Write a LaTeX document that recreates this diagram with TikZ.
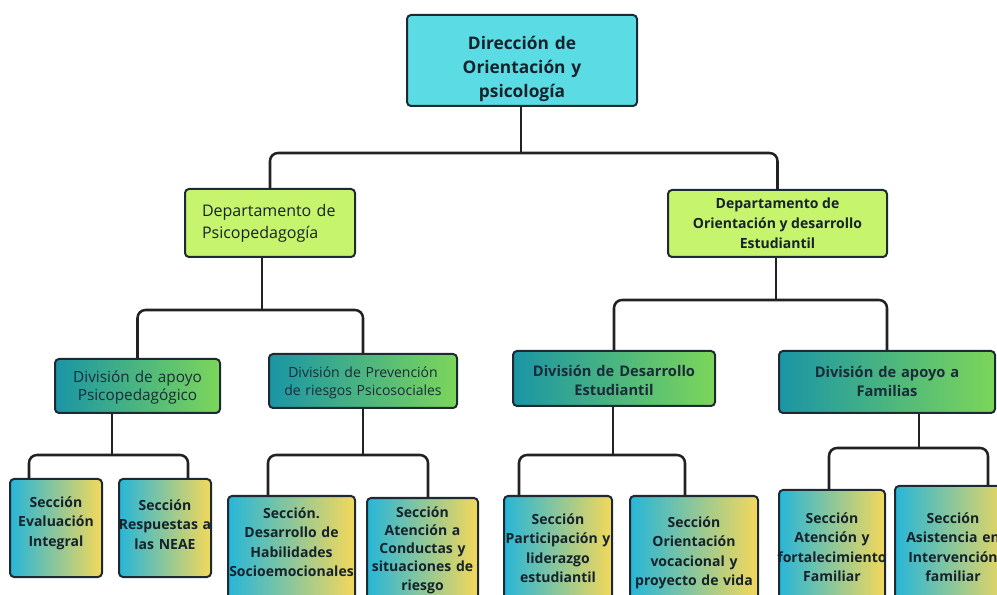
\documentclass[tikz,border=0pt]{standalone}
\usepackage{fontspec}
\setmainfont{Open Sans}
\hyphenpenalty=10000
\exhyphenpenalty=10000
\definecolor{topc}{HTML}{5BDCE4}
\definecolor{deptc}{HTML}{C6F46C}
\definecolor{divl}{HTML}{1A95A5}
\definecolor{divr}{HTML}{7CD65A}
\definecolor{secl}{HTML}{27B6D8}
\definecolor{secr}{HTML}{F4D85A}
\definecolor{bordc}{HTML}{1E2A33}
\definecolor{txtc}{HTML}{16222C}
\definecolor{divtxt}{HTML}{1B2B3A}
\definecolor{connc}{HTML}{222222}
\begin{document}
\begin{tikzpicture}[x=0.75pt,y=-0.75pt,
  box/.style={draw=bordc, line width=1.5pt, rounded corners=3pt, text=txtc, inner sep=0pt},
  wh/.style 2 args={minimum width={#1*0.75pt}, minimum height={#2*0.75pt}},
  topalign/.style={anchor=north, align=center, inner xsep=0pt, text height=0pt},
  topbox/.style={box, topalign, fill=topc, font=\bfseries\fontsize{13}{18}\selectfont},
  dept/.style={box, fill=deptc},
  divbox/.style={box, topalign, left color=divl, right color=divr, text=divtxt},
  secbox/.style={box, topalign, left color=secl, right color=secr, font=\bfseries\fontsize{10.5}{14.6}\selectfont, inner xsep=-4.5pt, text width={(#1+12)*0.75pt}},
  conn/.style={draw=connc, line width=1.9pt, rounded corners=6pt}
]
\useasboundingbox (0,0) rectangle (997,595);
\clip (0,0) rectangle (997,595);
\fill[white] (0,0) rectangle (997,595);

% top
\node[topbox, text width={230*0.75pt}, inner ysep={34.5*0.75pt}, text depth=16.5pt] (top) at (522,14) {Dirección de\\Orientación y\\psicología};

% departments
\node[dept, wh={170}{68}, text width={136*0.75pt}, align=left, font=\fontsize{12}{16.5}\selectfont] (dA) at (270,223) {Departamento de\\Psicopedagogía};
\node[dept, wh={219}{67}, align=center, font=\bfseries\fontsize{10.5}{15}\selectfont] (dB) at (777.5,223.5) {Departamento de\\Orientación y desarrollo\\Estudiantil};

% divisions
\node[divbox, text width={165*0.75pt}, inner ysep={23.5*0.75pt}, text depth=5.25pt, font=\fontsize{11.5}{13.5}\selectfont] (D1) at (137.5,358) {División de apoyo\\Psicopedagógico};
\node[divbox, text width={188*0.75pt}, inner ysep={23.5*0.75pt}, text depth=5.25pt, font=\fontsize{10.5}{13.2}\selectfont] (D2) at (363,353) {División de Prevención\\de riesgos Psicosociales};
\node[divbox, text width={202*0.75pt}, inner ysep={25.5*0.75pt}, text depth=3pt, font=\bfseries\fontsize{11}{14.2}\selectfont] (D3) at (614,350) {División de Desarrollo\\Estudiantil};
\node[divbox, text width={216*0.75pt}, inner ysep={26.5*0.75pt}, text depth=6.75pt, font=\bfseries\fontsize{11}{14.2}\selectfont] (D4) at (887,350) {División de apoyo a\\Familias};

% sections
\node[secbox=92, inner ysep={28.5*0.75pt}, text depth=30.75pt] (S1) at (56,478) {Sección\\Evaluación\\Integral};
\node[secbox=92, inner ysep={31.5*0.75pt}, text depth=26.25pt] (S2) at (165,478) {Sección\\Respuestas a\\las NEAE};
\node[secbox=127, inner ysep={22.5*0.75pt}, text depth=100pt] (S3) at (291.5,495) {Sección.\\Desarrollo de\\Habilidades\\Socioemocionales};
\node[secbox=111, inner ysep={19.5*0.75pt}, text depth=100pt, font=\bfseries\fontsize{10.5}{13.6}\selectfont] (S4) at (422.5,497) {Sección\\Atención a\\Conductas y\\situaciones de\\riesgo};
\node[secbox=108, inner ysep={28.5*0.75pt}, text depth=100pt] (S5) at (558,495) {Sección\\Participación y\\liderazgo\\estudiantil};
\node[secbox=128, inner ysep={31.5*0.75pt}, text depth=100pt] (S6) at (694,495) {Sección\\Orientación\\vocacional y\\proyecto de vida};
\node[secbox=106, inner ysep={33.5*0.75pt}, text depth=100pt] (S7) at (832,489) {Sección\\Atención y\\fortalecimiento\\Familiar};
\node[secbox=116, inner ysep={37.5*0.75pt}, text depth=100pt] (S8) at (953,485) {Sección\\Asistencia en\\Intervención\\familiar};

% junction coordinates
\coordinate (b0) at (521,153);
\coordinate (b1) at (262,310);
\coordinate (b2) at (776,300);
\coordinate (b3) at (112,455); \coordinate (b3l) at (29,455); \coordinate (b3r) at (188,455);
\coordinate (b4) at (363,455); \coordinate (b4l) at (268,455); \coordinate (b4r) at (428,455);
\coordinate (b5) at (613,455); \coordinate (b5l) at (519,455); \coordinate (b5r) at (685,455);
\coordinate (b6) at (919,448); \coordinate (b6l) at (829,448); \coordinate (b6r) at (988,448);

% connectors
\draw[conn] (top.south -| b0) -- (b0);
\draw[conn] (dA.north) |- (b0) -| (dB.north);
\draw[conn] (dA.south -| b1) -- (b1);
\draw[conn] (D1.north) |- (b1) -| (D2.north);
\draw[conn] (dB.south -| b2) -- (b2);
\draw[conn] (D3.north) |- (b2) -| (D4.north);
\draw[conn] (D1.south -| b3) -- (b3);
\draw[conn] (S1.north -| b3l) -- (b3l) -- (b3r) -- (S2.north -| b3r);
\draw[conn] (D2.south -| b4) -- (b4);
\draw[conn] (S3.north -| b4l) -- (b4l) -- (b4r) -- (S4.north -| b4r);
\draw[conn] (D3.south -| b5) -- (b5);
\draw[conn] (S5.north -| b5l) -- (b5l) -- (b5r) -- (S6.north -| b5r);
\draw[conn] (D4.south -| b6) -- (b6);
\draw[conn] (S7.north -| b6l) -- (b6l) -- (b6r) -- (S8.north -| b6r);
\end{tikzpicture}
\end{document}
